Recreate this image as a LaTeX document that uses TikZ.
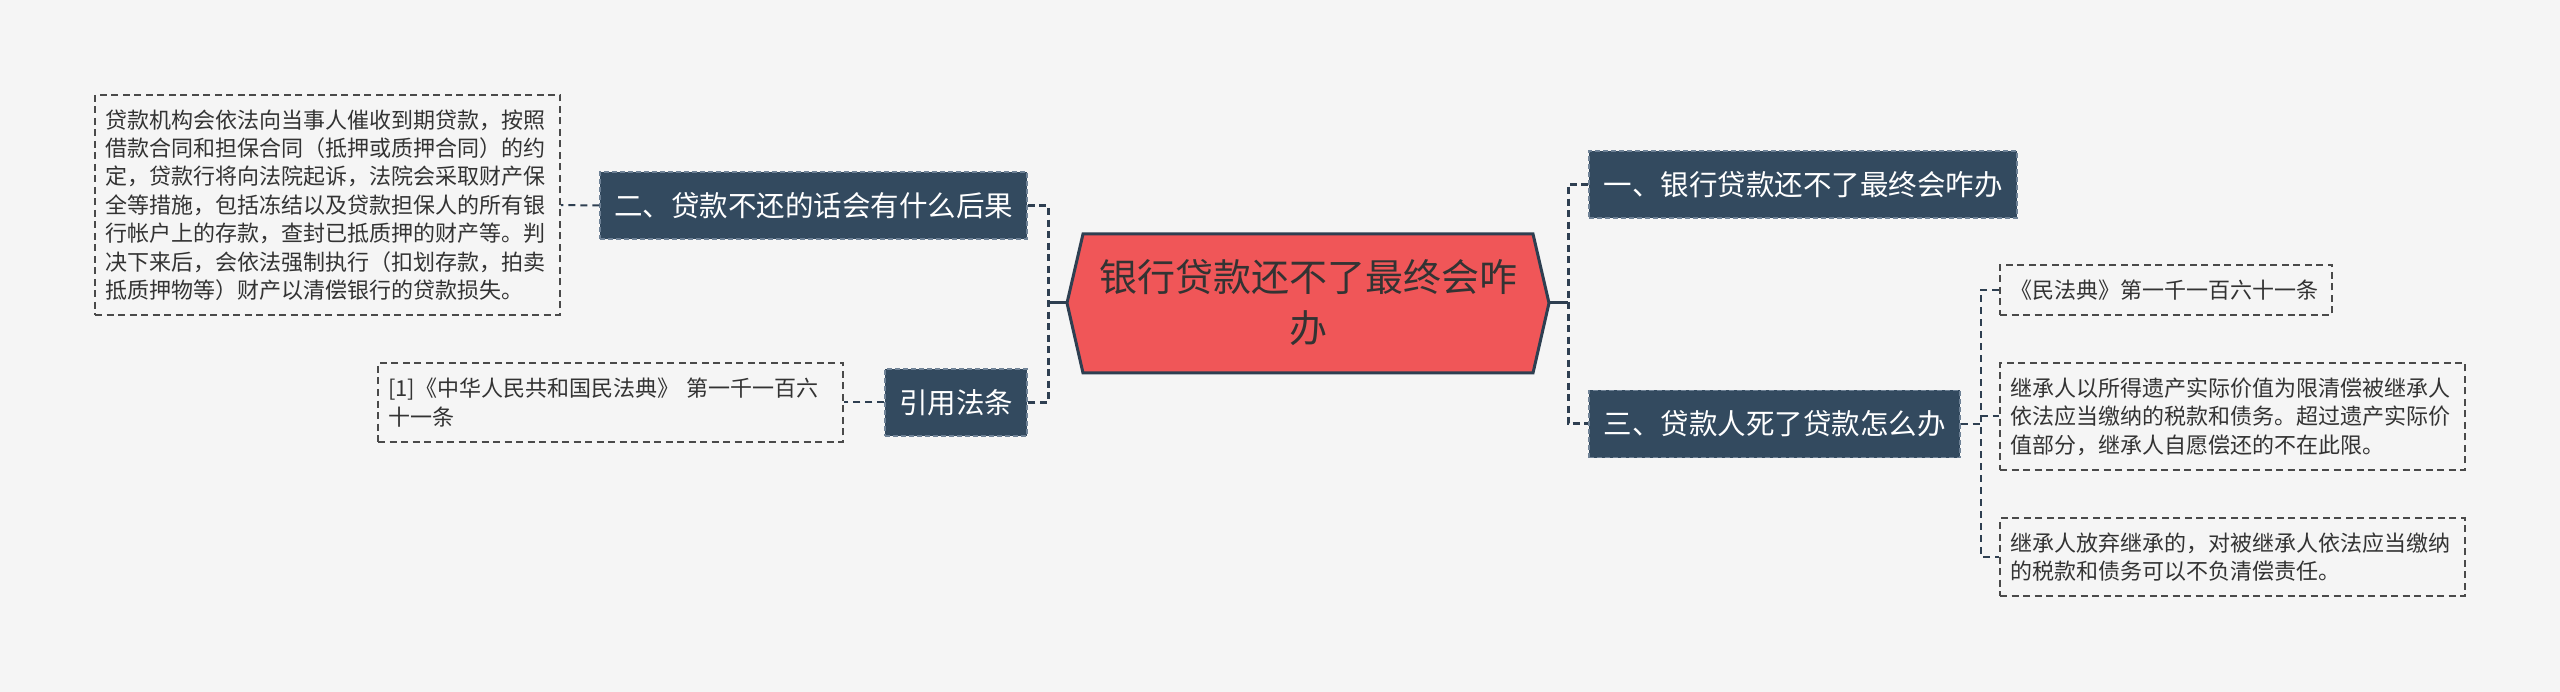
\documentclass[tikz,border=0pt]{standalone}
\usepackage{fontspec}
\setmainfont{Noto Sans CJK SC}
\usetikzlibrary{calc}
\definecolor{bg}{HTML}{F5F5F5}
\definecolor{navy}{HTML}{334A5F}
\definecolor{navyedge}{HTML}{6F8296}
\definecolor{navyline}{HTML}{2E3F51}
\definecolor{rootred}{HTML}{F05658}
\definecolor{txt}{HTML}{333333}
\definecolor{leafedge}{HTML}{4A4A4A}
\tikzset{
  darkbox/.style={fill=navy, draw=navyedge, dash pattern=on 5pt off 3pt, line width=1.2pt,
    text=white, font=\fontsize{28.5}{34}\selectfont, inner sep=0pt, minimum height=67pt},
  leafbox/.style={draw=leafedge, dash pattern=on 7pt off 4.5pt, line width=1.6pt,
    text=txt, font=\fontsize{22}{28.4}\selectfont, inner xsep=10pt, inner ysep=0pt, align=left},
  roottext/.style={text=txt, font=\fontsize{38}{51}\selectfont, align=center, inner sep=0pt},
  hubline/.style={draw=navyline, line width=3pt},
  busline/.style={draw=navyline, line width=3pt, dash pattern=on 7pt off 4.5pt},
  leafline/.style={draw=navyline, line width=2pt, dash pattern=on 7pt off 5pt},
}
\begin{document}
\begin{tikzpicture}[x=1pt,y=-1pt]
\path[use as bounding box, fill=bg] (0,0) rectangle (2560,692);

% root hexagon
\coordinate (rootL) at (1067,303);
\coordinate (rootR) at (1549,303);
\filldraw[fill=rootred, draw=navyline, line width=3pt, line join=miter]
  (1083,234) -- (1533,234) -- (rootR) -- (1533,373) -- (1083,373) -- (rootL) -- cycle;
\node[roottext] (root) at (1308,303) {银行贷款还不了最终会咋\\办};

% left branch
\node[darkbox, minimum width=427pt] (b2) at (813.5,205.5) {二、贷款不还的话会有什么后果};
\node[darkbox, minimum width=142pt] (b4) at (956,402.5) {引用法条};
\node[leafbox, text width=445pt, minimum height=220pt] (t1) at (327.5,205) {贷款机构会依法向当事人催收到期贷款，按照\\借款合同和担保合同（抵押或质押合同）的约\\定，贷款行将向法院起诉，法院会采取财产保\\全等措施，包括冻结以及贷款担保人的所有银\\行帐户上的存款，查封已抵质押的财产等。判\\决下来后，会依法强制执行（扣划存款，拍卖\\抵质押物等）财产以清偿银行的贷款损失。};
\node[leafbox, text width=445pt, minimum height=79pt] (cite) at (610.5,402.5) {[1]《中华人民共和国民法典》~第一千一百六\\十一条};

% right branch
\node[darkbox, minimum width=428pt] (b1) at (1803,184.5) {一、银行贷款还不了最终会咋办};
\node[darkbox, minimum width=371pt] (b3) at (1774.5,424) {三、贷款人死了贷款怎么办};
\node[leafbox, text width=312pt, minimum height=50pt] (r1) at (2166,290) {《民法典》第一千一百六十一条};
\node[leafbox, text width=445pt, minimum height=107pt] (r2) at (2232.5,416.5) {继承人以所得遗产实际价值为限清偿被继承人\\依法应当缴纳的税款和债务。超过遗产实际价\\值部分，继承人自愿偿还的不在此限。};
\node[leafbox, text width=445pt, minimum height=78pt] (r3) at (2232.5,557) {继承人放弃继承的，对被继承人依法应当缴纳\\的税款和债务可以不负清偿责任。};

% connectors
\draw[hubline] (rootL) -- ++(-19,0) coordinate (lj);
\draw[busline] (b2.east) -- (b2.east -| lj) -- (b4.east -| lj) -- (b4.east);
\draw[hubline] (rootR) -- ++(19,0) coordinate (rj);
\draw[busline] (b1.west) -- (b1.west -| rj) -- (b3.west -| rj) -- (b3.west);

\draw[leafline] (b2.west) -- (t1.east);
\draw[leafline] (b4.west) -- (cite.east);
\draw[leafline] (b3.east) -- ++(20,0) coordinate (rj2);
\draw[leafline] (r1.west) -- (r1.west -| rj2) -- (r3.west -| rj2) -- (r3.west);
\draw[leafline] (rj2 |- r2.west) -- (r2.west);
\end{tikzpicture}
\end{document}
